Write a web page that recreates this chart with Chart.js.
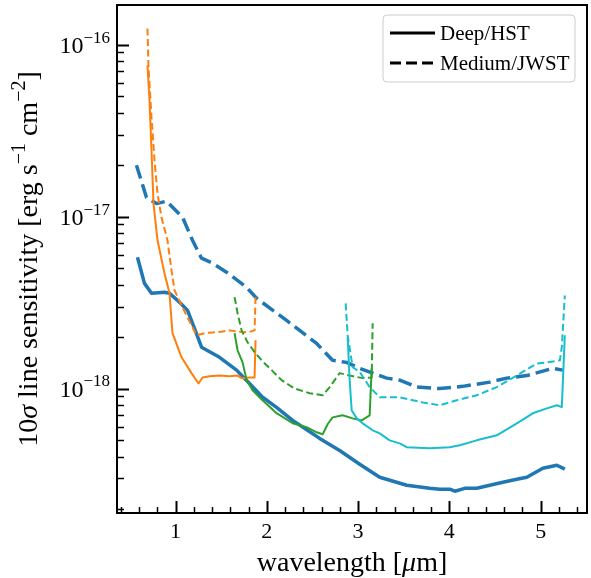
<!DOCTYPE html>
<html>
<head>
<meta charset="utf-8">
<script src="https://cdn.jsdelivr.net/npm/chart.js@4.4.0/dist/chart.umd.min.js"></script>
<style>
html,body{margin:0;padding:0;background:#fff;}
#wrap{width:591px;height:578px;}
</style>
</head>
<body>
<div id="wrap"><canvas id="chart" width="591" height="578"></canvas></div>
<script>
// 10-sigma line sensitivity curves
// x = wavelength [um], y = sensitivity [erg s^-1 cm^-2]

const blueSolidX = [0.583,0.660,0.737,0.879,0.934,1.044,1.132,1.208,1.285,1.482,1.669,1.811,1.954,2.107,2.283,2.430,2.579,2.798,3.018,3.237,3.533,3.785,3.895,4.004,4.060,4.169,4.300,4.443,4.586,4.739,4.849,5.024,5.178,5.265];
const blueSolidY = [5.80e-18,4.09e-18,3.58e-18,3.63e-18,3.58e-18,3.18e-18,2.85e-18,2.24e-18,1.74e-18,1.52e-18,1.28e-18,1.07e-18,8.9e-19,7.78e-19,6.53e-19,5.8e-19,5.13e-19,4.36e-19,3.63e-19,3.05e-19,2.74e-19,2.63e-19,2.6e-19,2.6e-19,2.53e-19,2.63e-19,2.63e-19,2.74e-19,2.85e-19,2.97e-19,3.05e-19,3.44e-19,3.58e-19,3.4e-19];

const blueDashX = [0.572,0.682,0.792,0.901,1.077,1.186,1.285,1.406,1.559,1.779,1.888,2.217,2.546,2.721,2.875,3.018,3.314,3.456,3.643,3.895,4.147,4.443,4.629,4.849,5.134,5.243];
const blueDashY = [1.99e-17,1.29e-17,1.19e-17,1.23e-17,9.91e-18,7.28e-18,5.73e-18,5.36e-18,4.75e-18,3.88e-18,3.35e-18,2.49e-18,1.83e-18,1.46e-18,1.42e-18,1.31e-18,1.15e-18,1.12e-18,1.02e-18,1.00e-18,1.03e-18,1.09e-18,1.15e-18,1.19e-18,1.31e-18,1.28e-18];

const orangeSolidX = [0.693,0.715,0.737,0.759,0.803,0.879,0.934,0.967,1.066,1.175,1.252,1.296,1.373,1.482,1.592,1.680,1.724,1.811,1.866,1.877];
const orangeSolidY = [7.57e-17,4.74e-17,2.43e-17,1.19e-17,7.28e-18,4.68e-18,3.58e-18,2.1e-18,1.52e-18,1.23e-18,1.07e-18,1.16e-18,1.18e-18,1.19e-18,1.18e-18,1.19e-18,1.15e-18,1.16e-18,1.16e-18,1.91e-18];

const orangeDashX = [0.693,0.704,0.737,0.770,0.803,0.846,0.912,0.956,0.989,1.077,1.175,1.230,1.318,1.406,1.500,1.592,1.690,1.789,1.866,1.877];
const orangeDashY = [1.24e-16,7.38e-17,3.78e-17,2.12e-17,1.36e-17,9.93e-18,7.28e-18,4.87e-18,3.73e-18,2.97e-18,2.33e-18,2.04e-18,2.10e-18,2.12e-18,2.14e-18,2.18e-18,2.14e-18,2.12e-18,2.18e-18,3.4e-18];

const greenSolidX = [1.647,1.680,1.735,1.779,1.844,1.954,2.107,2.283,2.436,2.546,2.612,2.666,2.721,2.831,2.941,3.039,3.127,3.149];
const greenSolidY = [2.1e-18,1.67e-18,1.42e-18,1.12e-18,9.77e-19,8.55e-19,7.19e-19,6.29e-19,5.96e-19,5.57e-19,5.42e-19,6.2e-19,6.8e-19,6.99e-19,6.71e-19,6.53e-19,6.99e-19,1.31e-18];

const greenDashX = [1.647,1.680,1.724,1.789,1.866,1.943,2.053,2.162,2.305,2.469,2.612,2.689,2.798,2.908,3.050,3.149,3.160];
const greenDashY = [3.4e-18,2.74e-18,2.18e-18,1.86e-18,1.63e-18,1.46e-18,1.28e-18,1.12e-18,1.0e-18,9.4e-19,9.14e-19,1.02e-18,1.23e-18,1.19e-18,1.15e-18,1.16e-18,2.4e-18];

const cyanSolidX = [2.886,2.908,2.930,2.985,3.050,3.160,3.237,3.346,3.456,3.533,3.785,4.004,4.114,4.300,4.520,4.739,4.914,5.068,5.178,5.232,5.265];
const cyanSolidY = [1.99e-18,1.12e-18,7.48e-19,6.71e-19,6.28e-19,5.72e-19,5.49e-19,5.0e-19,4.8e-19,4.56e-19,4.5e-19,4.56e-19,4.68e-19,5.0e-19,5.35e-19,6.28e-19,7.18e-19,7.67e-19,8.0e-19,7.8e-19,2.04e-18];

const cyanDashX = [2.864,2.886,2.941,3.018,3.127,3.237,3.456,3.708,3.895,4.081,4.300,4.520,4.772,4.958,5.068,5.211,5.232,5.265];
const cyanDashY = [3.13e-18,2.04e-18,1.33e-18,1.25e-18,1.02e-18,8.9e-19,8.9e-19,8.3e-19,8.0e-19,8.55e-19,9.14e-19,1.02e-18,1.22e-18,1.4e-18,1.42e-18,1.46e-18,1.74e-18,3.48e-18];

// axis ranges and ticks
const xRange = [0.359, 5.508];
const yRange = [1.89e-19, 1.70e-16];
const xMajorTicks = [1, 2, 3, 4, 5];
const yMajorExps = [-18, -17, -16];
const legendLabels = ["Deep/HST", "Medium/JWST"];

const SERIF = '"Liberation Serif", "Times New Roman", serif';

function pts(xs, ys){ return xs.map((x,i)=>({x:x, y:ys[i]})); }

function series(xs, ys, color, width, dash, order){
  return {
    data: pts(xs, ys),
    borderColor: color,
    borderWidth: width,
    borderDash: dash,
    pointRadius: 0,
    fill: false,
    tension: 0,
    borderCapStyle: 'butt',
    borderJoinStyle: 'round',
    order: order
  };
}

// rich text helpers (superscripts / italics)
function partFont(p, size){
  const s = p.sup ? Math.round(size*0.7) : size;
  return (p.it ? 'italic ' : '') + s + 'px ' + SERIF;
}
function richWidth(ctx, parts, size){
  let w = 0;
  for(const p of parts){ ctx.font = partFont(p,size); w += ctx.measureText(p.t).width; }
  return w;
}
function drawRich(ctx, parts, x, y, size){
  let cx = x;
  for(const p of parts){
    ctx.font = partFont(p,size);
    ctx.fillText(p.t, cx, p.sup ? y - size*0.42 : y);
    cx += ctx.measureText(p.t).width;
  }
}

const decor = {
  id: 'decor',
  afterDraw(chart){
    const ctx = chart.ctx, a = chart.chartArea;
    const xs = chart.scales.x, ys = chart.scales.y;
    ctx.save();
    ctx.strokeStyle = '#000';
    ctx.fillStyle = '#000';

    // frame
    ctx.lineWidth = 2;
    ctx.strokeRect(a.left, a.top, a.right - a.left, a.bottom - a.top);

    // x ticks (inward)
    for(let i = 2; i <= 27; i++){
      const v = i/5;
      const px = Math.round(xs.getPixelForValue(v)) + 0.5;
      const major = i % 5 === 0;
      ctx.lineWidth = major ? 2 : 1.5;
      ctx.beginPath();
      ctx.moveTo(px, a.bottom);
      ctx.lineTo(px, a.bottom - (major ? 12 : 6));
      ctx.stroke();
    }
    // y ticks (inward)
    for(let e = -19; e <= -16; e++){
      for(let k = 1; k <= 9; k++){
        const v = k * Math.pow(10, e);
        if(v < ys.min || v > ys.max) continue;
        const py = Math.round(ys.getPixelForValue(v)) + 0.5;
        const major = k === 1;
        ctx.lineWidth = major ? 2 : 1.5;
        ctx.beginPath();
        ctx.moveTo(a.left, py);
        ctx.lineTo(a.left + (major ? 12 : 7), py);
        ctx.stroke();
      }
    }

    // tick labels
    ctx.textBaseline = 'alphabetic';
    ctx.textAlign = 'center';
    ctx.font = '22px ' + SERIF;
    xMajorTicks.forEach(v=>{
      ctx.fillText(String(v), xs.getPixelForValue(v), a.bottom + 25);
    });
    ctx.textAlign = 'left';
    yMajorExps.forEach(e=>{
      const py = ys.getPixelForValue(Math.pow(10, e));
      const parts = [{t:'10'}, {t:'\u2212' + Math.abs(e), sup:true}];
      const w = richWidth(ctx, parts, 24);
      drawRich(ctx, parts, 110 - w, py + 8, 24);
    });

    // x title
    const xt = [{t:'wavelength ['}, {t:'\u03bc', it:true}, {t:'m]'}];
    const xw = richWidth(ctx, xt, 28);
    drawRich(ctx, xt, (a.left + a.right)/2 - xw/2, 571, 28);

    // y title (rotated)
    const yt = [{t:'10'}, {t:'\u03c3', it:true}, {t:' line sensitivity [erg s'}, {t:'\u22121', sup:true},
                {t:' cm'}, {t:'\u22122', sup:true}, {t:']'}];
    ctx.save();
    ctx.translate(37, (a.top + a.bottom)/2);
    ctx.rotate(-Math.PI/2);
    const yw = richWidth(ctx, yt, 28);
    drawRich(ctx, yt, -yw/2, 0, 28);
    ctx.restore();

    // legend
    const bx = a.right - 12, by = a.top + 10, bw = 192, bh = 67;
    ctx.beginPath();
    ctx.roundRect(bx - bw, by, bw, bh, 4);
    ctx.fillStyle = 'rgba(255,255,255,0.8)';
    ctx.fill();
    ctx.lineWidth = 1;
    ctx.strokeStyle = '#cccccc';
    ctx.stroke();
    ctx.strokeStyle = '#000';
    ctx.fillStyle = '#000';
    ctx.font = '21px ' + SERIF;
    legendLabels.forEach((lab, i)=>{
      const ry = by + 18 + i*30;
      ctx.lineWidth = 3;
      ctx.setLineDash(i === 0 ? [] : [11, 5]);
      ctx.beginPath();
      ctx.moveTo(bx - bw + 7, ry);
      ctx.lineTo(bx - bw + 52, ry);
      ctx.stroke();
      ctx.setLineDash([]);
      ctx.fillText(lab, bx - bw + 57, ry + 7);
    });
    ctx.restore();
  }
};

new Chart(document.getElementById('chart'), {
  type: 'line',
  data: {
    datasets: [
      series(blueSolidX, blueSolidY, '#1f77b4', 3.5, [], 8),
      series(blueDashX, blueDashY, '#1f77b4', 3.5, [14, 6], 7),
      series(orangeSolidX, orangeSolidY, '#ff7f0e', 2, [], 6),
      series(orangeDashX, orangeDashY, '#ff7f0e', 2, [7, 3.5], 5),
      series(greenSolidX, greenSolidY, '#2ca02c', 2, [], 4),
      series(greenDashX, greenDashY, '#2ca02c', 2, [7, 3.5], 3),
      series(cyanSolidX, cyanSolidY, '#17becf', 2, [], 2),
      series(cyanDashX, cyanDashY, '#17becf', 2, [7, 3.5], 1)
    ]
  },
  options: {
    responsive: false,
    animation: false,
    devicePixelRatio: 1,
    layout: { padding: { top: 5, right: 4, left: 0, bottom: 0 } },
    plugins: { legend: { display: false }, tooltip: { enabled: false } },
    scales: {
      x: {
        type: 'linear', min: xRange[0], max: xRange[1],
        grid: { display: false }, border: { display: false },
        ticks: { display: false },
        afterFit(s){ s.height = 65; }
      },
      y: {
        type: 'logarithmic', min: yRange[0], max: yRange[1],
        grid: { display: false }, border: { display: false },
        ticks: { display: false },
        afterFit(s){ s.width = 117; }
      }
    }
  },
  plugins: [decor]
});
</script>
</body>
</html>
